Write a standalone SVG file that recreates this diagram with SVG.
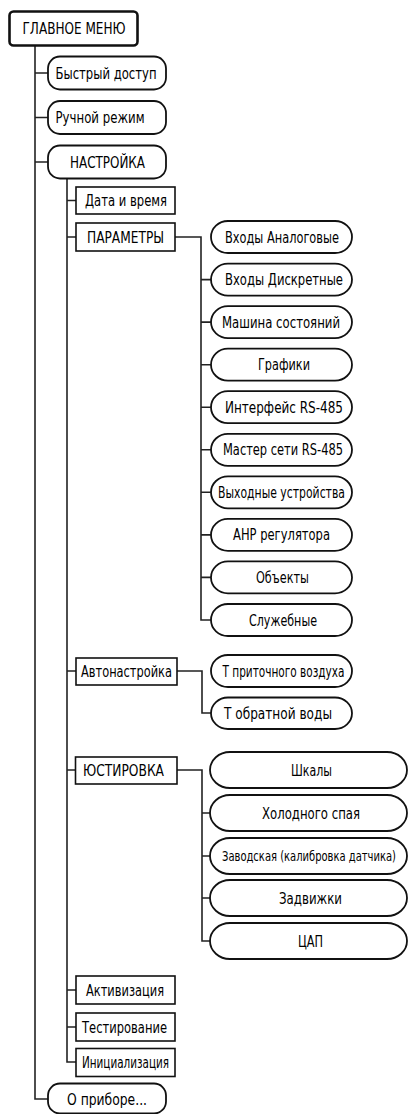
<svg xmlns="http://www.w3.org/2000/svg" width="409" height="1114" viewBox="0 0 409 1114">
<style>
text{font-family:"Liberation Sans Narrow","DejaVu Sans Condensed","Liberation Sans",sans-serif;font-size:15px;fill:#000;text-anchor:middle}
.b{fill:#fff;stroke:#111;stroke-width:1.6}
.p{fill:#fff;stroke:#111;stroke-width:1.8}
.m{fill:#fff;stroke:#111;stroke-width:2.6}
.c{fill:none;stroke:#222;stroke-width:1.6}
</style>
<rect width="409" height="1114" fill="#fff"/>
<g id="connectors">
<path class="c" d="M35 46V1099H48M35 73H48M35 117.5H48M35 162H48"/>
<path class="c" d="M67 178V1062H76M67 200.5H76M67 237H76M67 671H76M67 770H76M67 990H76M67 1027H76"/>
<path class="c" d="M175 237H201V620H211M201 279.6H211M201 322.1H211M201 364.7H211M201 407.2H211M201 449.8H211M201 492.3H211M201 534.9H211M201 577.4H211"/>
<path class="c" d="M177 671H202V713H211"/>
<path class="c" d="M177 770H202V941H210M202 813H210M202 856H210M202 898H210"/>
</g>
<g id="n-main"><rect class="m" x="9.5" y="11.5" width="128" height="34" rx="4"/><text x="74" y="33.5" textLength="103" lengthAdjust="spacingAndGlyphs">ГЛАВНОЕ МЕНЮ</text></g>
<g id="n-fast"><rect class="p" x="48" y="56.5" width="118" height="33" rx="12"/><text x="106" y="78.5" textLength="101" lengthAdjust="spacingAndGlyphs">Быстрый доступ</text></g>
<g id="n-manual"><rect class="p" x="48" y="101" width="118" height="33" rx="12"/><text x="100" y="123" textLength="89" lengthAdjust="spacingAndGlyphs">Ручной режим</text></g>
<g id="n-setup"><rect class="p" x="48" y="145.5" width="118" height="33" rx="12"/><text x="107.5" y="167.5" textLength="75" lengthAdjust="spacingAndGlyphs">НАСТРОЙКА</text></g>
<g id="n-date"><rect class="b" x="76" y="187" width="99" height="27"/><text x="126" y="206" textLength="82" lengthAdjust="spacingAndGlyphs">Дата и время</text></g>
<g id="n-params"><rect class="b" x="76" y="223" width="99" height="28"/><text x="125.5" y="242.5" textLength="77" lengthAdjust="spacingAndGlyphs">ПАРАМЕТРЫ</text></g>
<g id="n-ai"><rect class="p" x="211" y="221" width="141" height="32" rx="17" ry="16"/><text x="282" y="242.5" textLength="114" lengthAdjust="spacingAndGlyphs">Входы Аналоговые</text></g>
<g id="n-di"><rect class="p" x="211" y="263.6" width="141" height="32" rx="17" ry="16"/><text x="284" y="285.1" textLength="118" lengthAdjust="spacingAndGlyphs">Входы Дискретные</text></g>
<g id="n-sm"><rect class="p" x="211" y="306.1" width="141" height="32" rx="17" ry="16"/><text x="281" y="327.6" textLength="118" lengthAdjust="spacingAndGlyphs">Машина состояний</text></g>
<g id="n-graph"><rect class="p" x="211" y="348.7" width="141" height="32" rx="17" ry="16"/><text x="284" y="370.2" textLength="52" lengthAdjust="spacingAndGlyphs">Графики</text></g>
<g id="n-rs"><rect class="p" x="211" y="391.2" width="141" height="32" rx="17" ry="16"/><text x="284" y="412.7" textLength="118" lengthAdjust="spacingAndGlyphs">Интерфейс RS-485</text></g>
<g id="n-master"><rect class="p" x="211" y="433.8" width="141" height="32" rx="17" ry="16"/><text x="283" y="455.3" textLength="120" lengthAdjust="spacingAndGlyphs">Мастер сети RS-485</text></g>
<g id="n-out"><rect class="p" x="211" y="476.3" width="141" height="32" rx="17" ry="16"/><text x="281.5" y="497.8" textLength="127" lengthAdjust="spacingAndGlyphs">Выходные устройства</text></g>
<g id="n-ahr"><rect class="p" x="211" y="518.9" width="141" height="32" rx="17" ry="16"/><text x="281.5" y="540.4" textLength="97" lengthAdjust="spacingAndGlyphs">АНР регулятора</text></g>
<g id="n-obj"><rect class="p" x="211" y="561.4" width="141" height="32" rx="17" ry="16"/><text x="282.5" y="582.9" textLength="53" lengthAdjust="spacingAndGlyphs">Объекты</text></g>
<g id="n-serv"><rect class="p" x="211" y="604" width="141" height="32" rx="17" ry="16"/><text x="283" y="625.5" textLength="68" lengthAdjust="spacingAndGlyphs">Служебные</text></g>
<g id="n-auto"><rect class="b" x="76" y="658" width="101" height="27"/><text x="126.5" y="676.5" textLength="91" lengthAdjust="spacingAndGlyphs">Автонастройка</text></g>
<g id="n-tair"><rect class="p" x="211" y="655" width="141" height="32" rx="17" ry="16"/><text x="283.5" y="676.5" textLength="122" lengthAdjust="spacingAndGlyphs">Т приточного воздуха</text></g>
<g id="n-twater"><rect class="p" x="211" y="697.5" width="141" height="31.5" rx="17" ry="16"/><text x="278" y="719" textLength="108" lengthAdjust="spacingAndGlyphs">Т обратной воды</text></g>
<g id="n-adj"><rect class="b" x="75.5" y="757" width="101.5" height="27"/><text x="123.5" y="775.5" textLength="81" lengthAdjust="spacingAndGlyphs">ЮСТИРОВКА</text></g>
<g id="n-scale"><rect class="p" x="210" y="752" width="197" height="36" rx="20" ry="18"/><text x="311.5" y="775.5" textLength="41" lengthAdjust="spacingAndGlyphs">Шкалы</text></g>
<g id="n-cold"><rect class="p" x="210" y="795" width="197" height="36" rx="20" ry="18"/><text x="311" y="818.5" textLength="98" lengthAdjust="spacingAndGlyphs">Холодного спая</text></g>
<g id="n-factory"><rect class="p" x="210" y="838" width="197" height="36" rx="20" ry="18"/><text x="309" y="861" style="font-size:13.5px" textLength="174" lengthAdjust="spacingAndGlyphs">Заводская (калибровка датчика)</text></g>
<g id="n-valve"><rect class="p" x="210" y="880" width="197" height="36" rx="20" ry="18"/><text x="310.5" y="903.5" textLength="63" lengthAdjust="spacingAndGlyphs">Задвижки</text></g>
<g id="n-dac"><rect class="p" x="210" y="923" width="197" height="36" rx="20" ry="18"/><text x="310.5" y="946.5" textLength="25" lengthAdjust="spacingAndGlyphs">ЦАП</text></g>
<g id="n-act"><rect class="b" x="76" y="976" width="99" height="28"/><text x="125" y="995.5" textLength="78" lengthAdjust="spacingAndGlyphs">Активизация</text></g>
<g id="n-test"><rect class="b" x="76" y="1013" width="99" height="28"/><text x="124.5" y="1032.5" textLength="85" lengthAdjust="spacingAndGlyphs">Тестирование</text></g>
<g id="n-init"><rect class="b" x="76" y="1048.5" width="99" height="28"/><text x="125.5" y="1068" textLength="87" lengthAdjust="spacingAndGlyphs">Инициализация</text></g>
<g id="n-about"><rect class="p" x="48" y="1083.5" width="118" height="30" rx="12"/><text x="107" y="1104.5" textLength="80" lengthAdjust="spacingAndGlyphs">О приборе...</text></g>
</svg>
